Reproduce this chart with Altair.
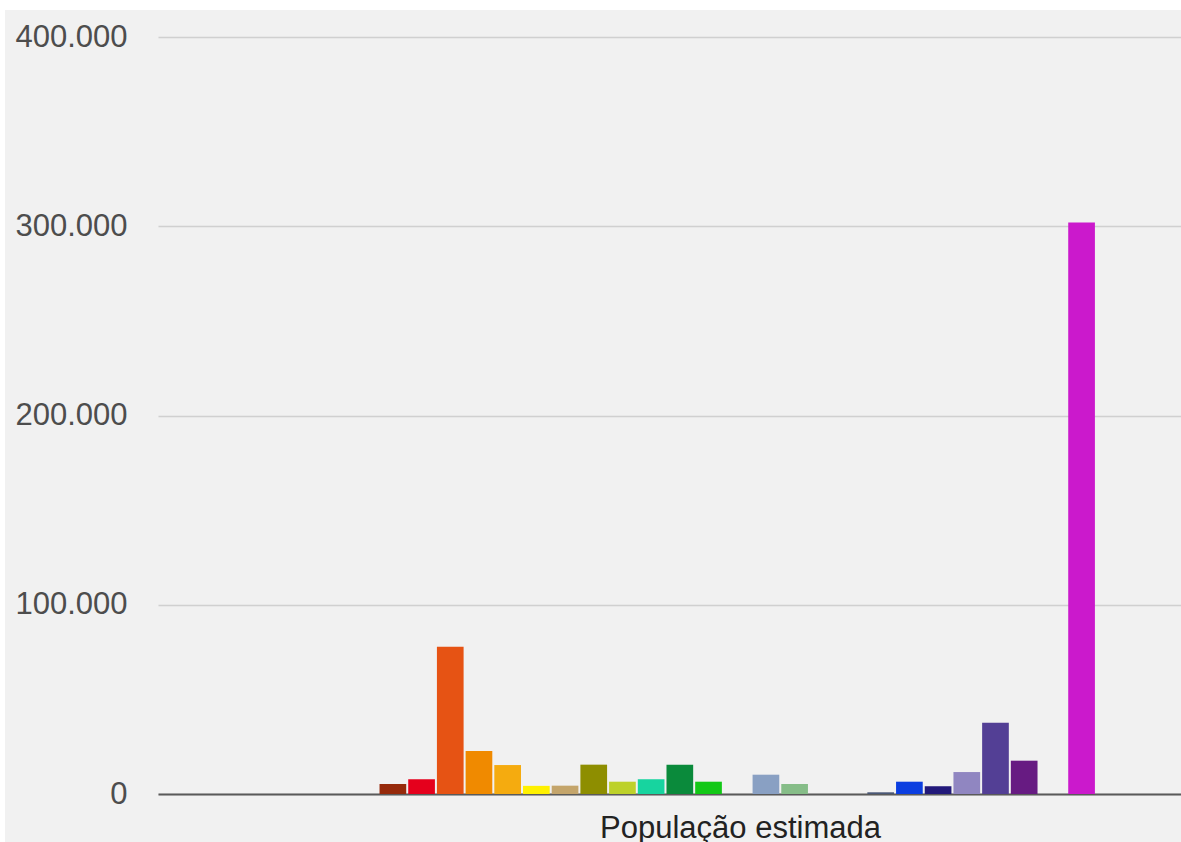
import altair as alt
import pandas as pd

category = "População estimada"

series = [f"Série {i}" for i in range(1, 36)]

values = [
    0, 0, 0, 0, 0, 0, 0,
    5300, 7800, 77800, 22700, 15300, 4300, 4400, 15500, 6500, 7800,
    15500, 6500, 0, 10200, 5300, 0, 0, 900, 6500, 4100, 11600,
    37700, 17600, 0, 302000,
    0, 0, 0,
]

colors = [
    "#cccccc", "#cccccc", "#cccccc", "#cccccc", "#cccccc", "#cccccc", "#cccccc",
    "#962a0b", "#e5001c", "#e65314", "#f08a00", "#f5ab0f", "#fff100", "#c4a56b",
    "#8e8e00", "#bdd12a", "#17d49f", "#0a8a3b", "#12c816", "#cccccc", "#89a0c3",
    "#86bd88", "#cccccc", "#cccccc", "#4a5876", "#0b3ee0", "#22197a", "#9086c1",
    "#533f95", "#671b82", "#cccccc", "#cb19cc",
    "#cccccc", "#cccccc", "#cccccc",
]

y_ticks = [0, 100000, 200000, 300000, 400000]

df = pd.DataFrame({"serie": series, "valor": values})

W, H = 1023, 757

bars = alt.Chart(df).mark_bar().encode(
    x=alt.X(
        "serie:N",
        sort=series,
        scale=alt.Scale(domain=series, paddingInner=0.07, paddingOuter=0.36, align=1),
        axis=alt.Axis(
            labels=False,
            ticks=False,
            title=category,
            titleX=582,
            titleY=43,
            titleBaseline="alphabetic",
            titleAlign="center",
            titleFont="Liberation Sans",
            titleFontSize=31,
            titleFontWeight="normal",
            titleColor="#222222",
            domain=True,
            domainColor="#5a5a5a",
            domainWidth=2,
            grid=False,
        ),
    ),
    y=alt.Y(
        "valor:Q",
        scale=alt.Scale(domain=[0, 400000], nice=False),
        axis=alt.Axis(
            values=y_ticks,
            labelExpr="datum.value == 0 ? '0' : format(datum.value / 1000, 'd') + '.000'",
            title=None,
            domain=False,
            ticks=False,
            labelPadding=31,
            labelFont="Liberation Sans",
            labelFontSize=31,
            labelColor="#4d4d4d",
            grid=True,
            gridColor="#d0d0d0",
            gridWidth=1.6,
        ),
    ),
    color=alt.Color("serie:N", scale=alt.Scale(domain=series, range=colors), legend=None),
)

strip_top = alt.Chart(alt.Data(values=[{}])).mark_rect(color="white").encode(
    x=alt.value(-158), x2=alt.value(W), y=alt.value(-37), y2=alt.value(-27)
)
strip_left = alt.Chart(alt.Data(values=[{}])).mark_rect(color="white").encode(
    x=alt.value(-158), x2=alt.value(-153), y=alt.value(-37), y2=alt.value(H + 48)
)

chart = alt.layer(bars, strip_top, strip_left).properties(
    width=W,
    height=H,
    autosize=alt.AutoSizeParams(type="none"),
    padding={"left": 158, "top": 37, "right": 0, "bottom": 48},
    background="#f1f1f1",
).configure_view(stroke=None)

chart.save("out.html", embed_options={"renderer": "svg", "actions": False})
